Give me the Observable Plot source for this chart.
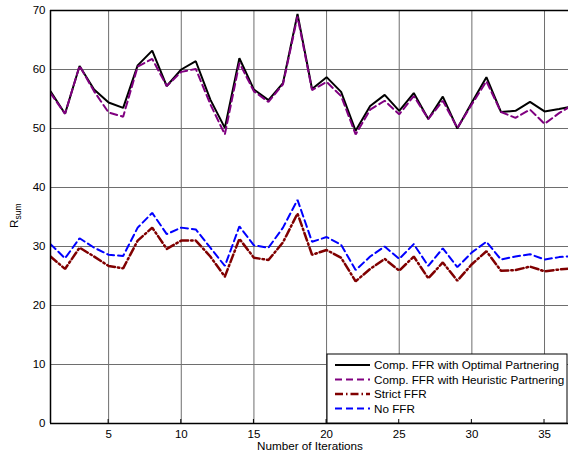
<!DOCTYPE html>
<html>
<head>
<meta charset="utf-8">
<script src="https://cdn.jsdelivr.net/npm/d3@7"></script>
<script src="https://cdn.jsdelivr.net/npm/@observablehq/plot@0.6"></script>
<style>
  body { margin: 0; background: #fff; }
</style>
</head>
<body>
<div id="chart"></div>
<script>
// Sum rate per iteration for the four resource-allocation schemes
const iterations = d3.range(1, 38);
const optimal   = [56.3, 52.5, 60.6, 56.6, 54.4, 53.5, 60.7, 63.2, 57.2, 60.0, 61.4, 54.9, 50.1, 61.9, 56.6, 54.8, 57.7, 69.4, 56.7, 58.7, 56.2, 49.6, 53.8, 55.7, 53.0, 56.0, 51.6, 55.4, 50.0, 54.4, 58.7, 52.8, 53.0, 54.5, 52.9, 53.3, 53.8];
const heuristic = [56.0, 52.5, 60.6, 56.3, 52.7, 52.0, 60.5, 61.8, 57.2, 59.6, 60.1, 54.1, 49.0, 61.1, 56.3, 54.5, 57.5, 69.0, 56.5, 57.9, 55.5, 49.0, 53.2, 54.7, 52.4, 55.5, 51.6, 54.7, 50.1, 54.1, 58.0, 52.8, 51.8, 53.2, 50.8, 52.6, 54.1];
const strict    = [28.3, 26.2, 29.8, 28.3, 26.7, 26.3, 31.0, 33.2, 29.6, 31.0, 31.0, 28.3, 24.9, 31.3, 28.1, 27.7, 30.7, 35.6, 28.6, 29.4, 28.1, 24.1, 26.2, 27.9, 25.9, 28.3, 24.6, 27.3, 24.2, 27.0, 29.2, 25.9, 26.0, 26.6, 25.8, 26.1, 26.3];
const noFFR     = [30.4, 28.0, 31.4, 29.8, 28.6, 28.4, 33.2, 35.7, 32.1, 33.2, 32.9, 29.8, 26.7, 33.4, 30.2, 29.8, 33.2, 37.9, 30.8, 31.6, 30.3, 26.0, 28.3, 30.0, 27.9, 30.4, 26.7, 29.7, 26.5, 29.0, 30.8, 27.8, 28.3, 28.7, 27.8, 28.2, 28.4];

const seriesNames = [
  "Comp. FFR with Optimal Partnering",
  "Comp. FFR with Heuristic Partnering",
  "Strict FFR",
  "No FFR"
];
const xTicks = [5, 10, 15, 20, 25, 30, 35];
const yTicks = [0, 10, 20, 30, 40, 50, 60, 70];

const styles = [
  {stroke: "#000000", strokeWidth: 2,   dash: null},
  {stroke: "#800080", strokeWidth: 2,   dash: "7,4"},
  {stroke: "#800000", strokeWidth: 2.5, dash: "8,3,1.5,3"},
  {stroke: "#0000ff", strokeWidth: 2,   dash: "7,4"}
];

const seriesValues = [optimal, heuristic, strict, noFFR];
const rows = (vals) => iterations.map((it, i) => ({iter: it, value: vals[i]}));

const font = "'Liberation Sans', Arial, Helvetica, sans-serif";
const gridColor = "#6e6e6e";
const labelSize = 11.7;

const plot = Plot.plot({
  width: 568,
  height: 453,
  marginLeft: 50,
  marginRight: 0,
  marginTop: 10,
  marginBottom: 30,
  style: {fontFamily: font, fontSize: "11.5px", color: "#000", background: "#fff"},
  x: {domain: [1, 36.65], ticks: xTicks, tickSize: 0, tickPadding: 6, label: null},
  y: {domain: [0, 70], ticks: yTicks, tickSize: 0, tickPadding: 5, label: null},
  marks: [
    Plot.gridX(xTicks, {stroke: gridColor, strokeOpacity: 1, strokeWidth: 1}),
    Plot.gridY(yTicks.filter(v => v > 0 && v < 70), {stroke: gridColor, strokeOpacity: 1, strokeWidth: 1}),
    ...seriesValues.map((vals, k) => Plot.line(rows(vals), {
      x: "iter",
      y: "value",
      stroke: styles[k].stroke,
      strokeWidth: styles[k].strokeWidth,
      strokeDasharray: styles[k].dash,
      strokeLinejoin: "miter",
      clip: true
    })),
    Plot.ruleY([70], {stroke: "#000", strokeWidth: 1.5}),
    Plot.ruleY([0], {stroke: "#000", strokeWidth: 1.5}),
    Plot.ruleX([1], {stroke: "#000", strokeWidth: 1.5})
  ]
});

document.getElementById("chart").appendChild(plot);

const svg = d3.select(plot);
const xs = plot.scale("x");
const ys = plot.scale("y");
const y0 = ys.apply(0);

// Legend box in the lower-right corner of the axes
const lg = svg.append("g")
  .attr("font-family", font).attr("font-size", labelSize)
  .attr("text-anchor", "start");
const boxLeft = 327, boxTop = 354, boxRight = 567;
lg.append("rect")
  .attr("x", boxLeft).attr("y", boxTop)
  .attr("width", boxRight - boxLeft).attr("height", y0 - boxTop)
  .attr("fill", "#fff").attr("stroke", "#000").attr("stroke-width", 1);
seriesNames.forEach((name, k) => {
  const cy = 365 + k * 14.5;
  lg.append("line")
    .attr("x1", 335).attr("x2", 370).attr("y1", cy).attr("y2", cy)
    .attr("stroke", styles[k].stroke)
    .attr("stroke-width", styles[k].strokeWidth)
    .attr("stroke-dasharray", styles[k].dash);
  lg.append("text")
    .attr("x", 374).attr("y", cy).attr("dy", "0.35em")
    .attr("fill", "#000")
    .text(name);
});

// Inward tick marks along the bottom axis, drawn over the legend box
xTicks.forEach(v => {
  svg.append("line")
    .attr("x1", xs.apply(v)).attr("x2", xs.apply(v))
    .attr("y1", y0).attr("y2", y0 - 4)
    .attr("stroke", "#000").attr("stroke-width", 1);
});

// Axis titles
svg.append("text")
  .attr("x", 310).attr("y", 450)
  .attr("text-anchor", "middle")
  .attr("font-family", font).attr("font-size", labelSize).attr("fill", "#000")
  .text("Number of Iterations");

const yl = svg.append("text")
  .attr("transform", "translate(18,228) rotate(-90)")
  .attr("text-anchor", "start")
  .attr("font-family", font).attr("font-size", labelSize).attr("fill", "#000");
yl.append("tspan").text("R");
yl.append("tspan").attr("font-size", 8.5).attr("dy", "0.35em").text("sum");
</script>
</body>
</html>
